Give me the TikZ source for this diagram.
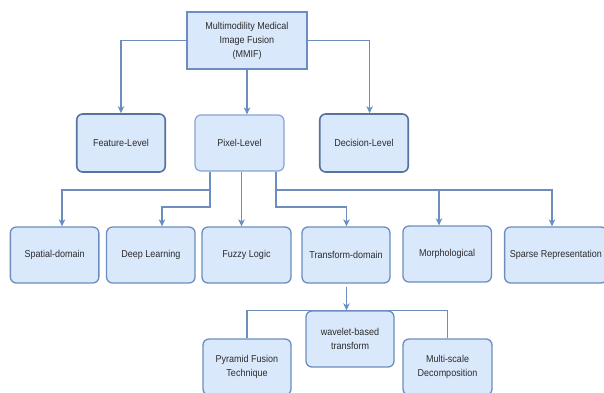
\documentclass[tikz,border=0pt]{standalone}
\usepackage{fontspec}
\setmainfont{Liberation Sans}[FakeStretch=0.9]
\usetikzlibrary{arrows.meta,backgrounds}
\definecolor{boxfill}{HTML}{DAE8FC}
\definecolor{boxline}{HTML}{6C8EBF}
\definecolor{darkline}{HTML}{56729E}
\definecolor{lightline}{HTML}{86A4D4}
\definecolor{txt}{HTML}{2B2B2B}
\begin{document}
\begin{tikzpicture}[x=1pt,y=-1pt,
  every node/.style={font=\fontsize{10}{14}\selectfont, text=txt, align=center, inner sep=0pt},
  box/.style={draw=boxline, fill=boxfill, line width=1.3pt, rounded corners=6pt, minimum width=88.5pt, minimum height=56pt},
  darkbox/.style={box, draw=darkline, line width=1.6pt, minimum height=58pt},
  lightbox/.style={box, draw=lightline, line width=1.2pt},
  topbox/.style={draw=boxline, fill=boxfill, line width=2pt, minimum width=120pt, minimum height=57pt},
  conn/.style={draw=boxline, line width=1.5pt},
  arr/.style={conn, -{Stealth[length=7pt,width=6.5pt,inset=2pt]}}]
\useasboundingbox (0,0) rectangle (604,392);
\begin{scope}
\clip (0,0) rectangle (604,392);
\node[topbox] (mmif) at (247,40.5) {Multimodility Medical\\Image Fusion\\(MMIF)};
\node[darkbox] (feature) at (121,143) {Feature-Level};
\node[lightbox, minimum width=89pt] (pixel) at (239.5,143) {Pixel-Level};
\node[darkbox] (decision) at (364,143) {Decision-Level};
\node[box] (spatial) at (54.6,255) {Spatial-domain};
\node[box] (deep) at (150.8,255) {Deep Learning};
\node[box, minimum width=89pt] (fuzzy) at (246.5,255) {Fuzzy Logic};
\node[box, minimum width=88pt] (transform) at (346,255) {Transform-domain};
\node[box] (morph) at (447.2,254) {Morphological};
\node[box, minimum width=102.4pt] (sparse) at (555.8,255) {Sparse Representation};
\node[box, minimum width=88pt] (wavelet) at (350,339) {wavelet-based\\transform};
\node[box, minimum width=88pt] (pyramid) at (247,367) {Pyramid Fusion\\Technique};
\node[box, minimum width=89pt] (multi) at (447.5,367) {Multi-scale\\Decomposition};
\end{scope}
\begin{scope}[on background layer]
\draw[arr] (mmif.west) -| (feature.north);
\draw[arr] (mmif.south) -- (mmif.south |- pixel.north);
\draw[arr] (mmif.east) -| ([xshift=5.6pt]decision.north);
\coordinate (pa) at ([xshift=-29.5pt]pixel.south);
\coordinate (pb) at ([xshift=2pt]pixel.south);
\coordinate (pc) at ([xshift=36.5pt]pixel.south);
\coordinate (bus) at (0,190);
\coordinate (low) at (0,207);
\draw[arr] (pa) -- (pa |- bus) -| ([xshift=7.4pt]spatial.north);
\draw[arr] (pa) -- (pa |- low) -| ([xshift=11.2pt]deep.north);
\draw[arr] (pb) -- (pb |- fuzzy.north);
\draw[arr] (pc) -- (pc |- low) -| ([xshift=0.5pt]transform.north);
\draw[arr] (pc) -- (pc |- bus) -| ([xshift=-3.8pt]sparse.north);
\draw[arr] ([xshift=-8.2pt]morph.north |- bus) -- ([xshift=-8.2pt]morph.north);
\draw[arr] ([xshift=0.5pt,yshift=-3pt]transform.south) -- ([xshift=0.5pt]transform.south |- wavelet.north);
\draw[conn] (pyramid.north) |- (wavelet.north) -| (multi.north);
\end{scope}
\end{tikzpicture}
\end{document}
